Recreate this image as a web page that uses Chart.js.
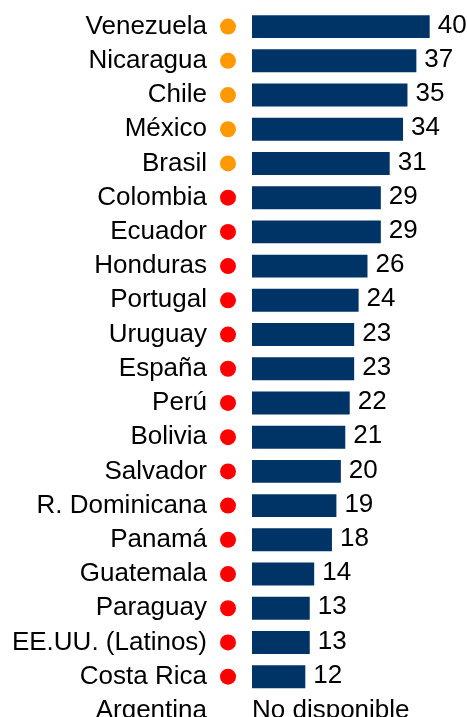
<!DOCTYPE html>
<html>
<head>
<meta charset="utf-8">
<script src="https://cdn.jsdelivr.net/npm/chart.js@4"></script>
<style>
  html, body { margin: 0; padding: 0; background: #fff; overflow: hidden; }
  #wrap { width: 467px; height: 728px; }
</style>
</head>
<body>
<div id="wrap"><canvas id="chart" width="467" height="728"></canvas></div>
<script>
// data
const countries = ['Venezuela', 'Nicaragua', 'Chile', 'México', 'Brasil', 'Colombia', 'Ecuador',
    'Honduras', 'Portugal', 'Uruguay', 'España', 'Perú', 'Bolivia', 'Salvador', 'R. Dominicana',
    'Panamá', 'Guatemala', 'Paraguay', 'EE.UU. (Latinos)', 'Costa Rica', 'Argentina'];
const values = [40, 37, 35, 34, 31, 29, 29, 26, 24, 23, 23, 22, 21, 20, 19, 18, 14, 13, 13, 12, null];
// o = orange dot, r = red dot, '' = none
const dots = ['o', 'o', 'o', 'o', 'o', 'r', 'r', 'r', 'r', 'r', 'r', 'r', 'r', 'r', 'r', 'r', 'r', 'r', 'r', 'r', ''];
const missingText = 'No disponible';

const dotColors = { o: '#FF9900', r: '#FF0000' };

// draws the dots, value labels and the "no disponible" text
const extras = {
    id: 'extras',
    afterDatasetsDraw(chart) {
        const ctx = chart.ctx;
        const yScale = chart.scales.y;
        const xScale = chart.scales.x;
        ctx.save();
        countries.forEach((c, i) => {
            const y = yScale.getPixelForValue(i);
            if (dots[i]) {
                ctx.fillStyle = dotColors[dots[i]];
                ctx.beginPath();
                ctx.arc(228, y, 8, 0, Math.PI * 2);
                ctx.fill();
            }
            ctx.fillStyle = '#000';
            ctx.font = '26px "Liberation Sans", Arial, sans-serif';
            ctx.textBaseline = 'middle';
            ctx.textAlign = 'left';
            if (values[i] == null) {
                ctx.fillText(missingText, xScale.getPixelForValue(0), y);
            } else {
                ctx.fillText(String(values[i]), xScale.getPixelForValue(values[i]) + 8, y - 1);
            }
        });
        ctx.restore();
    }
};

new Chart(document.getElementById('chart'), {
    type: 'bar',
    data: {
        labels: countries,
        datasets: [{
            data: values,
            backgroundColor: '#003366',
            barPercentage: 0.67,
            categoryPercentage: 1
        }]
    },
    options: {
        indexAxis: 'y',
        responsive: false,
        animation: false,
        layout: { padding: { top: 9.5, bottom: 0, left: 0, right: 0 } },
        scales: {
            x: {
                display: false,
                min: 0,
                max: 48.4
            },
            y: {
                afterFit(scale) {
                    scale.width = 252;
                    scale.paddingTop = 0;
                    scale.paddingBottom = 0;
                },
                grid: { display: false, drawTicks: false },
                border: { display: false },
                ticks: {
                    padding: 45,
                    autoSkip: false,
                    color: '#000',
                    font: { family: '"Liberation Sans", Arial, sans-serif', size: 26 }
                }
            }
        },
        plugins: {
            legend: { display: false },
            tooltip: { enabled: false }
        }
    },
    plugins: [extras]
});
</script>
</body>
</html>
